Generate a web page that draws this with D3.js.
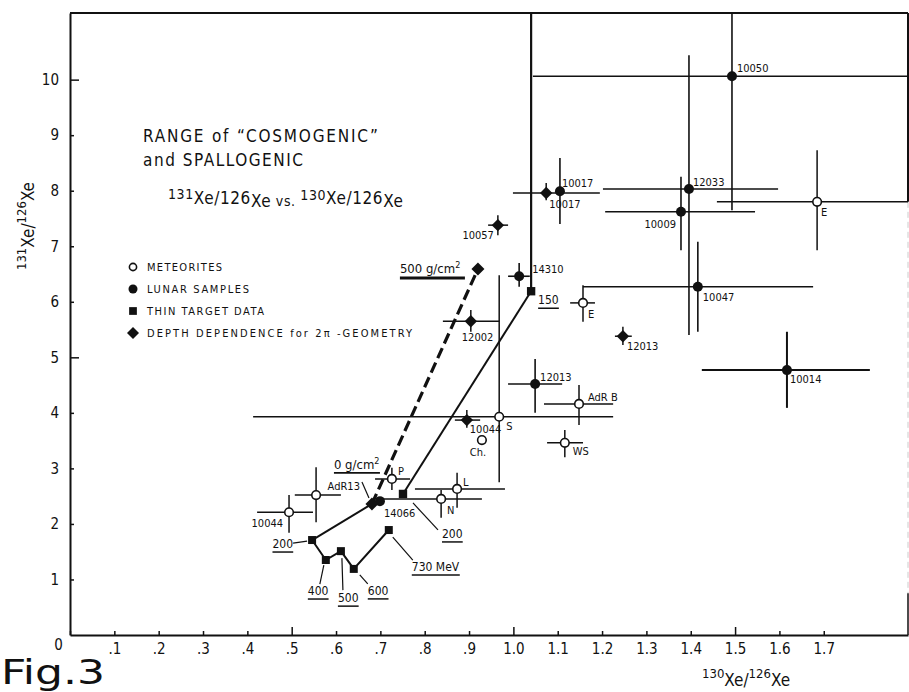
<!DOCTYPE html>
<html>
<head>
<meta charset="utf-8">
<script src="https://cdn.jsdelivr.net/npm/d3@7"></script>
<style>
  html, body { margin: 0; padding: 0; background: #fff; }
  svg { display: block; }
  text { font-family: "DejaVu Sans Condensed", "DejaVu Sans", sans-serif; font-stretch: condensed; fill: #111; }
</style>
</head>
<body>
<svg id="chart" width="909" height="692"></svg>
<script>
// ---- axis ticks -------------------------------------------------------
const xTicks = [0, 0.1, 0.2, 0.3, 0.4, 0.5, 0.6, 0.7, 0.8, 0.9, 1.0, 1.1, 1.2, 1.3, 1.4, 1.5, 1.6, 1.7];
const xTickLabels = ["0", ".1", ".2", ".3", ".4", ".5", ".6", ".7", ".8", ".9", "1.0", "1.1", "1.2", "1.3", "1.4", "1.5", "1.6", "1.7"];
const yTicks = [1, 2, 3, 4, 5, 6, 7, 8, 9, 10];
const yTickLabels = ["1", "2", "3", "4", "5", "6", "7", "8", "9", "10"];

// ---- meteorites (open circles): 130Xe/126Xe, 131Xe/126Xe, error ranges ----
const meteoriteNames = ["10044", "", "P", "N", "L", "S", "Ch.", "WS", "AdR B", "E", "E"];
const meteoriteX = [0.494, 0.555, 0.726, 0.837, 0.873, 0.968, 0.929, 1.116, 1.148, 1.157, 1.685];
const meteoriteY = [2.21, 2.52, 2.81, 2.45, 2.63, 3.93, 3.51, 3.46, 4.16, 5.98, 7.80];
const meteoriteXErr = [[0.422, 0.548], [0.507, 0.611], [0.688, 0.767], [0.706, 0.929], [0.778, 0.981],
                       [0.413, 1.225], null, [1.076, 1.157], [1.069, 1.225], [1.128, 1.184], [1.459, 1.89]];
const meteoriteYErr = [[1.84, 2.52], [2.03, 3.02], [2.61, 3.01], [2.11, 2.61], [2.29, 2.92],
                       [2.75, 6.48], null, [3.20, 3.69], [3.78, 4.50], [5.64, 6.30], [6.93, 8.73]];

// ---- lunar samples, round markers ----
const lunarNames = ["14066", "12013", "10017", "12033", "10009", "10047", "10050", "10014", "14310"];
const lunarX = [0.699, 1.049, 1.105, 1.396, 1.378, 1.416, 1.493, 1.617, 1.013];
const lunarY = [2.41, 4.52, 7.99, 8.03, 7.62, 6.27, 10.06, 4.77, 6.46];
const lunarXErr = [null, [0.988, 1.110], null, [1.202, 1.597], [1.207, 1.545], [1.157, 1.676], [1.044, 1.89], [1.425, 1.804], [0.988, 1.037]];
const lunarYErr = [null, [4.00, 4.97], [7.40, 8.59], [5.40, 10.44], [6.93, 8.25], [5.46, 7.08], [7.65, 11.2], [4.09, 5.46], [6.27, 6.70]];

// ---- lunar samples, diamond markers ----
const lunarDiaNames = ["10057", "12002", "10017", "12013", "10044"];
const lunarDiaX = [0.965, 0.904, 1.074, 1.247, 0.895];
const lunarDiaY = [7.38, 5.65, 7.96, 5.38, 3.87];
const lunarDiaXErr = [[0.943, 0.988], [0.841, 0.968], [0.999, 1.195], [1.229, 1.267], [0.868, 0.925]];
const lunarDiaYErr = [[7.20, 7.56], [5.46, 5.85], [7.83, 8.14], [5.22, 5.55], [3.73, 4.05]];

// ---- depth dependence for 2pi geometry (0 and 500 g/cm2) ----
const depthX = [0.681, 0.920];
const depthY = [2.36, 6.59];

// ---- thin target data, energies in MeV ----
const thinA_E = [200, 400, 500, 600, 730];
const thinA_X = [0.546, 0.577, 0.611, 0.640, 0.719];
const thinA_Y = [1.71, 1.35, 1.51, 1.19, 1.89];
const thinB_E = [200, 150];
const thinB_X = [0.751, 1.040];
const thinB_Y = [2.54, 6.19];
const thinB_YErr = [null, [6.19, 11.2]];

const legendItems = ["METEORITES", "LUNAR SAMPLES", "THIN TARGET DATA", "DEPTH DEPENDENCE for 2\u03c0 -GEOMETRY"];

// ---- label placement (pixel offsets from the marker) ----
const meteoriteLabelPos = [[-6, 15, "end"], null, [6, -4, "start"], [6, 15, "start"], [6, -3, "start"], [7, 13, "start"],
                           [-4, 16, "middle"], [8, 12, "start"], [9, -3, "start"], [5, 15, "start"], [4, 14, "start"]];
const lunarLabelPos = [[4, 16, "start"], [5, -3, "start"], [2, -4, "start"], [4, -3, "start"], [-5, 16, "end"],
                       [5, 14, "start"], [5, -4, "start"], [3, 13, "start"], [13, -3, "start"]];
const lunarDiaLabelPos = [[-4, 14, "end"], [-9, 20, "start"], [3, 15, "start"], [4, 14, "start"], [3, 13, "start"]];
// thin target labels: text offset, text anchor, leader start, leader end
const thinALabelPos = [
  { t: [-19, 8, "end"], l: [[-19, 3], [-5, 1]] },
  { t: [-18, 35, "start"], l: [[-2, 5], [-6, 24]] },
  { t: [-3, 51, "start"], l: [[1, 7], [2, 39]] },
  { t: [14, 26, "start"], l: [[6, 6], [14, 15]] },
  { t: [23, 41, "start"], l: [[4, 7], [24, 30]] }
];
const thinBLabelPos = [
  { t: [39, 44, "start"], l: [[10, 9], [35, 36]] },
  { t: [7, 13, "start"], l: null }
];

// ---- scales ----
const W = 909, H = 692;
const x = d3.scaleLinear().domain([0, 1.89]).range([70, 908]);
const y = d3.scaleLinear().domain([0, 11.2]).range([635, 13]);

const svg = d3.select("#chart");
svg.append("rect").attr("width", W).attr("height", H).attr("fill", "#fff");

const ink = "#111";

// ---- frame ----
const frame = svg.append("g").attr("stroke", ink).attr("fill", "none");
frame.append("line").attr("x1", x(0)).attr("x2", x(1.89)).attr("y1", y(11.2)).attr("y2", y(11.2)).attr("stroke-width", 2);
frame.append("line").attr("x1", x(1.89)).attr("x2", x(1.89)).attr("y1", y(11.2)).attr("y2", y(7.8)).attr("stroke-width", 2);
frame.append("line").attr("x1", x(1.89)).attr("x2", x(1.89)).attr("y1", y(7.8)).attr("y2", y(0.75))
  .attr("stroke-width", 1).attr("stroke", "#ccc").attr("stroke-dasharray", "6,4");
frame.append("line").attr("x1", x(1.89)).attr("x2", x(1.89)).attr("y1", y(0.75)).attr("y2", y(0)).attr("stroke-width", 1.5);

// ---- axes ----
const xAxis = d3.axisBottom(x).tickValues(xTicks).tickFormat((d, i) => xTickLabels[i])
  .tickSizeInner(-4).tickSizeOuter(0).tickPadding(8);
const gx = svg.append("g").attr("transform", `translate(0,${y(0)})`).call(xAxis);
gx.select(".domain").attr("stroke", ink).attr("stroke-width", 2);
gx.selectAll(".tick line").attr("stroke", ink).attr("stroke-width", 1.5)
  .attr("y2", d => [0.5, 1.0, 1.5].some(v => Math.abs(v - d) < 1e-6) ? -8 : -4);
gx.selectAll(".tick text").attr("font-size", 15).attr("fill", ink)
  .attr("font-family", "\"DejaVu Sans Condensed\", \"DejaVu Sans\", sans-serif")
  .attr("dx", d => d === 0 ? -12 : 0)
  .attr("y", d => d === 0 ? 4 : 8);

const yAxis = d3.axisLeft(y).tickValues(yTicks).tickFormat((d, i) => yTickLabels[i])
  .tickSizeInner(-4).tickSizeOuter(0).tickPadding(11);
const gy = svg.append("g").attr("transform", `translate(${x(0)},0)`).call(yAxis);
gy.select(".domain").attr("stroke", ink).attr("stroke-width", 2);
gy.selectAll(".tick line").attr("stroke", ink).attr("stroke-width", 1.5)
  .attr("x2", d => (d === 5 || d === 10) ? 9 : 4);
gy.selectAll(".tick text").attr("font-size", 15).attr("fill", ink)
  .attr("font-family", "\"DejaVu Sans Condensed\", \"DejaVu Sans\", sans-serif");

// axis titles with mass-number superscripts
function isotopeRatio(sel, a, b, supSize) {
  sel.append("tspan").text(a).attr("font-size", supSize).attr("dy", -6);
  sel.append("tspan").text("Xe/").attr("dy", 8);
  sel.append("tspan").text(b).attr("font-size", supSize).attr("dy", -8);
  sel.append("tspan").text("Xe").attr("dy", 8);
}
const xTitle = svg.append("text").attr("x", 702).attr("y", 684).attr("font-size", 17);
isotopeRatio(xTitle, "130", "126", 13);
const yTitle = svg.append("text").attr("transform", "translate(32,226) rotate(-90)")
  .attr("text-anchor", "middle").attr("font-size", 17);
isotopeRatio(yTitle, "131", "126", 13);

// figure number
svg.append("text").attr("x", 1).attr("y", 684).attr("font-size", 33)
  .attr("font-family", "\"DejaVu Sans\", sans-serif").attr("font-stretch", "normal")
  .attr("textLength", 104).attr("lengthAdjust", "spacingAndGlyphs").text("Fig.3");

// ---- title block ----
svg.append("text").attr("x", 143).attr("y", 142).attr("font-size", 17)
  .attr("textLength", 235).attr("lengthAdjust", "spacing").text("RANGE of \u201cCOSMOGENIC\u201d");
svg.append("text").attr("x", 143).attr("y", 166).attr("font-size", 17)
  .attr("textLength", 160).attr("lengthAdjust", "spacing").text("and SPALLOGENIC");
const t3 = svg.append("text").attr("x", 168).attr("y", 206).attr("font-size", 17).attr("letter-spacing", 0.6);
t3.append("tspan").text("131").attr("font-size", 14).attr("dy", -7);
t3.append("tspan").text("Xe/126").attr("dy", 5);
t3.append("tspan").text("Xe").attr("dy", 3);
t3.append("tspan").text("  vs. ").attr("font-size", 14).attr("dy", -1);
t3.append("tspan").text("130").attr("font-size", 14).attr("dy", -6);
t3.append("tspan").text("Xe/126").attr("dy", 4);
t3.append("tspan").text("Xe").attr("dy", 3);

// ---- diamond marker: a rhombus as wide as it is tall ----
const rhombus = r => `M0,${-r}L${r},0L0,${r}L${-r},0Z`;

// ---- legend ----
const legendY = [267, 289, 311, 333];
const legendW = [75, 102, 117, 265];
const lg = svg.append("g");
legendItems.forEach((txt, i) => {
  lg.append("text").attr("x", 147).attr("y", legendY[i] + 4).attr("font-size", 11)
    .attr("textLength", legendW[i]).attr("lengthAdjust", "spacing").text(txt);
});
lg.append("circle").attr("cx", 133).attr("cy", legendY[0]).attr("r", 3.6).attr("fill", "#fff").attr("stroke", ink).attr("stroke-width", 1.6);
lg.append("circle").attr("cx", 133).attr("cy", legendY[1]).attr("r", 4.5).attr("fill", ink);
lg.append("path").attr("d", d3.symbol(d3.symbolSquare, 60)()).attr("transform", `translate(133,${legendY[2]})`).attr("fill", ink);
lg.append("path").attr("d", rhombus(6)).attr("transform", `translate(133,${legendY[3]})`).attr("fill", ink);

// ---- helpers ----
const layer = svg.append("g");
function errorBars(px, py, xe, ye, w) {
  if (xe) layer.append("line").attr("x1", x(xe[0])).attr("x2", x(xe[1])).attr("y1", y(py)).attr("y2", y(py))
    .attr("stroke", ink).attr("stroke-width", w);
  if (ye) layer.append("line").attr("x1", x(px)).attr("x2", x(px)).attr("y1", y(ye[0])).attr("y2", y(ye[1]))
    .attr("stroke", ink).attr("stroke-width", w);
}
function label(px, py, pos, txt, size) {
  if (!pos || !txt) return null;
  return svg.append("text").attr("x", x(px) + pos[0]).attr("y", y(py) + pos[1])
    .attr("text-anchor", pos[2]).attr("font-size", size || 11).text(txt);
}
function underline(t, extra) {
  const b = t.node().getBBox();
  svg.append("line").attr("x1", b.x).attr("x2", b.x + b.width + (extra || 0))
    .attr("y1", b.y + b.height + 1).attr("y2", b.y + b.height + 1).attr("stroke", ink).attr("stroke-width", 1.5);
}

// ---- error bars ----
meteoriteX.forEach((v, i) => errorBars(v, meteoriteY[i], meteoriteXErr[i], meteoriteYErr[i], 1.5));
lunarX.forEach((v, i) => errorBars(v, lunarY[i], lunarXErr[i], lunarYErr[i], i === 7 ? 2 : 1.6));
lunarDiaX.forEach((v, i) => errorBars(v, lunarDiaY[i], lunarDiaXErr[i], lunarDiaYErr[i], 1.5));
thinB_X.forEach((v, i) => errorBars(v, thinB_Y[i], null, thinB_YErr[i], 2.2));

// ---- thin target curves ----
const lineGen = d3.line().x(d => x(d[0])).y(d => y(d[1]));
layer.append("path").attr("d", lineGen(thinA_X.map((v, i) => [v, thinA_Y[i]])))
  .attr("fill", "none").attr("stroke", ink).attr("stroke-width", 2);
layer.append("path").attr("d", lineGen([[thinA_X[0], thinA_Y[0]], [depthX[0], depthY[0]]]))
  .attr("fill", "none").attr("stroke", ink).attr("stroke-width", 2);
layer.append("path").attr("d", lineGen(thinB_X.map((v, i) => [v, thinB_Y[i]])))
  .attr("fill", "none").attr("stroke", ink).attr("stroke-width", 2);
// depth dependence (dashed)
layer.append("path").attr("d", lineGen(depthX.map((v, i) => [v, depthY[i]])))
  .attr("fill", "none").attr("stroke", ink).attr("stroke-width", 3.2).attr("stroke-dasharray", "11,5");

// ---- markers ----
const sym = (type, size) => d3.symbol(type, size)();
layer.selectAll(".met").data(meteoriteX).join("circle")
  .attr("cx", d => x(d)).attr("cy", (d, i) => y(meteoriteY[i])).attr("r", 4.3)
  .attr("fill", "#fff").attr("stroke", ink).attr("stroke-width", 1.6);
layer.selectAll(".lun").data(lunarX).join("circle")
  .attr("cx", d => x(d)).attr("cy", (d, i) => y(lunarY[i])).attr("r", 5)
  .attr("fill", ink);
lunarDiaX.forEach((v, i) => layer.append("path").attr("d", rhombus(6.2))
  .attr("transform", `translate(${x(v)},${y(lunarDiaY[i])})`).attr("fill", ink));
depthX.forEach((v, i) => layer.append("path").attr("d", rhombus(6.5))
  .attr("transform", `translate(${x(v)},${y(depthY[i])})`).attr("fill", ink));
thinA_X.forEach((v, i) => layer.append("path").attr("d", sym(d3.symbolSquare, 64))
  .attr("transform", `translate(${x(v)},${y(thinA_Y[i])})`).attr("fill", ink));
thinB_X.forEach((v, i) => layer.append("path").attr("d", sym(d3.symbolSquare, 70))
  .attr("transform", `translate(${x(v)},${y(thinB_Y[i])})`).attr("fill", ink));

// ---- point labels ----
meteoriteNames.forEach((n, i) => label(meteoriteX[i], meteoriteY[i], meteoriteLabelPos[i], n));
lunarNames.forEach((n, i) => label(lunarX[i], lunarY[i], lunarLabelPos[i], n));
lunarDiaNames.forEach((n, i) => label(lunarDiaX[i], lunarDiaY[i], lunarDiaLabelPos[i], n));

function leader(px, py, l) {
  if (!l) return;
  svg.append("line").attr("x1", x(px) + l[0][0]).attr("y1", y(py) + l[0][1])
    .attr("x2", x(px) + l[1][0]).attr("y2", y(py) + l[1][1]).attr("stroke", ink).attr("stroke-width", 1.2);
}
thinA_E.forEach((e, i) => {
  const p = thinALabelPos[i];
  const t = label(thinA_X[i], thinA_Y[i], p.t, i === 4 ? e + "  MeV" : String(e), 12);
  underline(t);
  leader(thinA_X[i], thinA_Y[i], p.l);
});
thinB_E.forEach((e, i) => {
  const p = thinBLabelPos[i];
  const t = label(thinB_X[i], thinB_Y[i], p.t, String(e), 12);
  underline(t);
  leader(thinB_X[i], thinB_Y[i], p.l);
});

// AdR13 pointer into the 14066 cluster
label(depthX[0], depthY[0], [-12, -14, "end"], "AdR13");
leader(depthX[0], depthY[0], [[-10, -22], [-3, -6]]);

// depth labels
const d0 = svg.append("text").attr("x", x(depthX[0]) - 38).attr("y", y(depthY[0]) - 35).attr("font-size", 13);
d0.append("tspan").text("0 g/cm");
d0.append("tspan").text("2").attr("font-size", 9).attr("dy", -5);
svg.append("line").attr("x1", x(depthX[0]) - 38).attr("x2", x(depthX[0]) + 8)
  .attr("y1", y(depthY[0]) - 31).attr("y2", y(depthY[0]) - 31).attr("stroke", ink).attr("stroke-width", 1.8);
const d5 = svg.append("text").attr("x", x(depthX[1]) - 78).attr("y", y(depthY[1]) + 4).attr("font-size", 13);
d5.append("tspan").text("500 g/cm");
d5.append("tspan").text("2").attr("font-size", 9).attr("dy", -5);
svg.append("line").attr("x1", x(depthX[1]) - 78).attr("x2", x(depthX[1]) - 13)
  .attr("y1", y(depthY[1]) + 9).attr("y2", y(depthY[1]) + 9).attr("stroke", ink).attr("stroke-width", 3);
</script>
</body>
</html>
